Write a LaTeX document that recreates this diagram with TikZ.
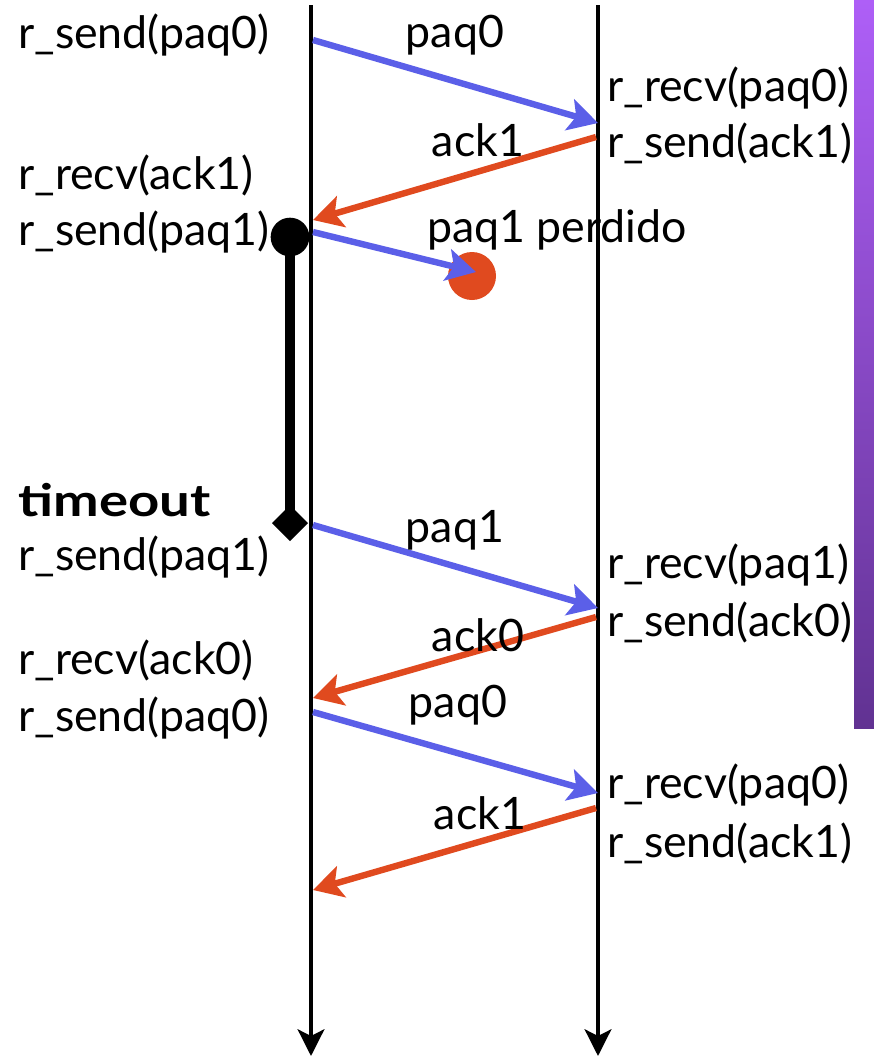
\documentclass[tikz,border=0pt]{standalone}
\usepackage{fontspec}
\setmainfont{Lato}
\usetikzlibrary{arrows.meta}
\definecolor{pblue}{HTML}{5B5FE8}
\definecolor{pred}{HTML}{E04A1F}
\definecolor{ptop}{HTML}{AE5FF7}
\definecolor{pbot}{HTML}{613292}
\begin{document}
\begin{tikzpicture}[x=0.75pt,y=-0.75pt,
  lbl/.style={font=\fontsize{33.5}{36}\selectfont, inner sep=0pt, anchor=west},
  mid/.style={font=\fontsize{33.5}{36}\selectfont, inner sep=0pt},
  life/.style={line width=3pt, -{Stealth[length=20pt,width=20pt,inset=5pt]}},
  msgb/.style={pblue, line width=4.8pt, -{Stealth[length=22pt,width=24pt,inset=5pt]}},
  msgr/.style={pred, line width=4.8pt, -{Stealth[length=22pt,width=24pt,inset=5pt]}}]
\useasboundingbox (0,0) rectangle (874,1058);
\shade[top color=ptop, bottom color=pbot] (854,0) rectangle (874,728);
% lifelines
\coordinate (At) at (311,5); \coordinate (Ab) at (311,1056);
\coordinate (Bt) at (598,5); \coordinate (Bb) at (598,1056);
\draw[life] (At) -- (Ab);
\draw[life] (Bt) -- (Bb);
% timer
\coordinate (T1) at (290,237); \coordinate (T2) at (290,523);
\draw[line width=7.5pt] (T1) -- (T2);
\fill (T1) circle (14.5pt);
\fill (T2) ++(0,-18) -- ++(18,18) -- ++(-18,18) -- ++(-18,-18) -- cycle;
% lost packet
\fill[pred] (472,276) circle (18pt) coordinate (L);
% message endpoints
\coordinate (s1) at (313,40);  \coordinate (r1) at (598,123);
\coordinate (s2) at (596,137); \coordinate (r2) at (313,220);
\coordinate (s3) at (313,232); \coordinate (r3) at (476,272);
\coordinate (s4) at (313,525); \coordinate (r4) at (598,608);
\coordinate (s5) at (596,617); \coordinate (r5) at (313,698);
\coordinate (s6) at (313,712); \coordinate (r6) at (598,793);
\coordinate (s7) at (596,808); \coordinate (r7) at (313,890);
\draw[msgb] (s1) -- (r1);
\draw[msgr] (s2) -- (r2);
\draw[msgb] (s3) -- (r3);
\draw[msgb] (s4) -- (r4);
\draw[msgr] (s5) -- (r5);
\draw[msgb] (s6) -- (r6);
\draw[msgr] (s7) -- (r7);
% left labels
\node[lbl] (l1) at (18,35) {r\_send(paq0)};
\node[lbl] (l2) at (18,175) {r\_recv(ack1)};
\node[lbl] (l3) at (18,232) {r\_send(paq1)};
\node[lbl] (l4) at (18,500) {\bfseries\scalebox{1.22}[1]{timeout}};
\node[lbl] (l5) at (18,557) {r\_send(paq1)};
\node[lbl] (l6) at (18,660) {r\_recv(ack0)};
\node[lbl] (l7) at (18,718) {r\_send(paq0)};
% right labels
\node[lbl] (q1) at (607,88) {r\_recv(paq0)};
\node[lbl] (q2) at (607,143) {r\_send(ack1)};
\node[lbl] (q3) at (607,565) {r\_recv(paq1)};
\node[lbl] (q4) at (607,622) {r\_send(ack0)};
\node[lbl] (q5) at (607,785) {r\_recv(paq0)};
\node[lbl] (q6) at (607,843) {r\_send(ack1)};
% message labels
\node[mid] (m1) at (455,35) {paq0};
\node[mid] (m2) at (478,140) {ack1};
\node[lbl] (m3) at (427,230) {paq1 perdido};
\node[mid] (m4) at (455,530) {paq1};
\node[mid] (m5) at (478,635) {ack0};
\node[mid] (m6) at (458,705) {paq0};
\node[mid] (m7) at (480,813) {ack1};
\end{tikzpicture}
\end{document}
